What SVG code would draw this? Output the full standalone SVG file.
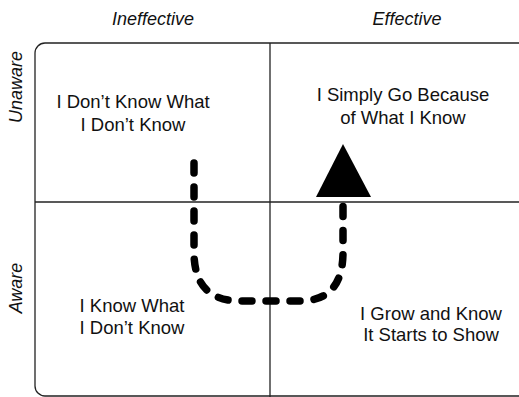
<svg xmlns="http://www.w3.org/2000/svg" width="519" height="397" viewBox="0 0 519 397">
<style>
.t{font-family:"Liberation Sans",Arial,sans-serif;font-size:18.5px;fill:#111;text-anchor:middle}
.h{font-family:"Liberation Sans",Arial,sans-serif;font-size:18px;font-style:italic;fill:#111;text-anchor:middle}
.ln{stroke:#222;stroke-width:1.3;fill:none}
.dash{stroke:#000;stroke-width:7.5;fill:none;stroke-linecap:round;stroke-dasharray:10 14}
</style>
<rect width="519" height="397" fill="#fff"/>
<g id="frame">
<rect class="ln" x="35" y="43" width="520" height="353" rx="10"/>
<line class="ln" x1="270" y1="43" x2="270" y2="397"/>
<line class="ln" x1="35" y1="202" x2="519" y2="202"/>
</g>
<g id="headers">
<text class="h" x="153" y="25">Ineffective</text>
<text class="h" x="407" y="25">Effective</text>
<text class="h" transform="translate(22,87) rotate(-90)">Unaware</text>
<text class="h" transform="translate(22,288) rotate(-90)">Aware</text>
</g>
<g id="q1"><text class="t" x="133" y="108">I Don’t Know What</text><text class="t" x="133" y="131">I Don’t Know</text></g>
<g id="q2"><text class="t" x="403" y="101">I Simply Go Because</text><text class="t" x="403" y="124">of What I Know</text></g>
<g id="q3"><text class="t" x="132" y="312">I Know What</text><text class="t" x="132" y="334">I Don’t Know</text></g>
<g id="q4"><text class="t" x="431" y="320">I Grow and Know</text><text class="t" x="431" y="341">It Starts to Show</text></g>
<g id="connectors">
<path class="dash" d="M194,163 L194,252 Q194,301 240,301 L300,301 Q343,301 343,252 L343,200"/>
<polygon points="343,144 316,197 371,197" fill="#000"/>
</g>
</svg>
